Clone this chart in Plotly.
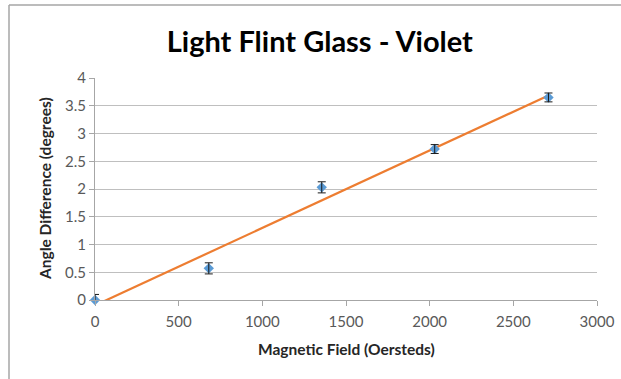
import numpy as np
import plotly.graph_objects as go

field = [0, 680, 1355, 2030, 2710]
angle = [0.0, 0.57, 2.03, 2.72, 3.65]
err = [0.1, 0.1, 0.1, 0.08, 0.08]
x_ticks = [0, 500, 1000, 1500, 2000, 2500, 3000]
y_ticks = [0, 0.5, 1, 1.5, 2, 2.5, 3, 3.5, 4]
y_tick_text = ["0", "0.5", "1", "1.5", "2", "2.5", "3", "3.5", "4"]

slope, intercept = np.polyfit(field, angle, 1)
fit_x = [0, max(field)]
fit_y = [intercept + slope * v for v in fit_x]

W, H = 621, 379
L, R, T, B = 95, 24, 78, 79
pw, ph = W - L - R, H - T - B

def px(x):
    return (x - L) / pw

def py(y):
    return (H - B - y) / ph

FONT = "Lato, Open Sans, sans-serif"

fig = go.Figure()
fig.add_trace(go.Scatter(x=fit_x, y=fit_y, mode="lines",
                         line=dict(color="#ED7D31", width=2.2),
                         hoverinfo="skip", showlegend=False))
fig.add_trace(go.Scatter(x=field, y=angle, mode="markers",
                         marker=dict(symbol="diamond", size=8, color="#5B9BD5"),
                         cliponaxis=False, showlegend=False))
fig.add_trace(go.Scatter(x=field, y=angle, mode="markers",
                         marker=dict(size=1, opacity=0),
                         error_y=dict(type="data", array=err, color="#1a1a1a",
                                      thickness=1, width=4),
                         cliponaxis=True, showlegend=False))

fig.update_layout(
    width=W, height=H,
    margin=dict(l=L, r=R, t=T, b=B),
    paper_bgcolor="white", plot_bgcolor="white",
    font=dict(family=FONT, color="#595959", size=15),
    title=dict(text="<b>Light Flint Glass - Violet</b>", x=0.515, xref="container",
               xanchor="center", y=1 - 42 / H, yref="container", yanchor="middle",
               font=dict(size=29, color="#000000", family=FONT)),
    xaxis=dict(range=[0, 3000], tickvals=x_ticks, showgrid=False, zeroline=False,
               showline=True, linecolor="#A6A6A6", linewidth=1,
               ticks="outside", ticklen=5, tickcolor="#A6A6A6",
               ticklabelstandoff=3, automargin=False,
               tickfont=dict(size=15, color="#595959")),
    yaxis=dict(range=[0, 4], tickvals=y_ticks, ticktext=y_tick_text,
               showgrid=True, gridcolor="#BFBFBF", gridwidth=1, zeroline=False,
               showline=True, linecolor="#A6A6A6", linewidth=1,
               ticks="outside", ticklen=5, tickcolor="#A6A6A6",
               automargin=False,
               tickfont=dict(size=15, color="#595959")),
    annotations=[
        dict(text="<b>Magnetic Field (Oersteds)</b>", xref="paper", yref="paper",
             x=0.5, y=py(349), xanchor="center", yanchor="middle", showarrow=False,
             font=dict(size=15.5, color="#262626", family=FONT)),
        dict(text="<b>Angle Difference (degrees)</b>", xref="paper", yref="paper",
             x=px(45), y=0.5, xanchor="center", yanchor="middle", showarrow=False,
             textangle=-90, font=dict(size=15.5, color="#262626", family=FONT)),
    ],
    shapes=[
        dict(type="line", xref="paper", yref="paper", x0=px(9), x1=px(W + 2),
             y0=py(5), y1=py(5), line=dict(color="#A6A6A6", width=1.5)),
        dict(type="line", xref="paper", yref="paper", x0=px(9), x1=px(9),
             y0=py(5), y1=py(H + 2), line=dict(color="#A6A6A6", width=1.5)),
    ],
)

fig.write_html("out.html")
